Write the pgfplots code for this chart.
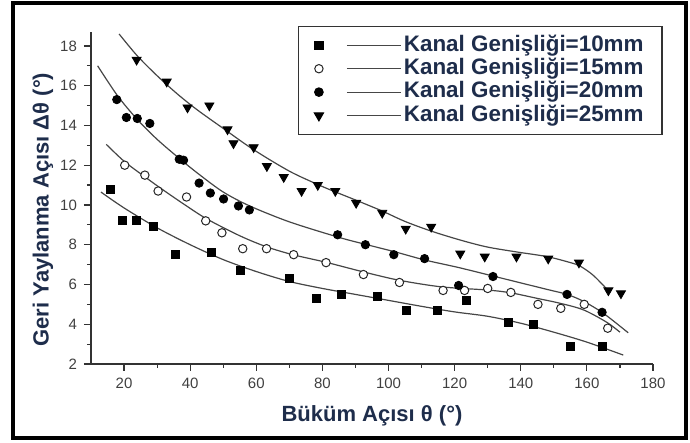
\documentclass[border=0pt]{standalone}
\usepackage{fontspec}
\setmainfont{Liberation Sans}
\usepackage{pgfplots}
\pgfplotsset{compat=1.18}

\definecolor{labelink}{RGB}{30,45,75}
\definecolor{fitline}{RGB}{70,70,70}

\begin{document}
\begin{tikzpicture}
\begin{axis}[
  scale only axis,
  width=281pt, height=166pt,
  xmin=10, xmax=180, ymin=2, ymax=18.7,
  axis lines=left,
  axis line style={-, black!80, line width=0.7pt},
  xtick={20,40,...,180}, ytick={2,4,...,18},
  minor x tick num=1, minor y tick num=1,
  tick align=outside,
  major tick length=3.5pt, minor tick length=2pt,
  every tick/.style={black!80, line width=0.6pt},
  /pgf/number format/assume math mode=true,
  tick label style={font=\fontsize{7.5}{9}\selectfont, text=black!75},
  xlabel={Büküm Açısı θ (°)},
  ylabel={Geri Yaylanma Açısı Δθ (°)},
  label style={font=\bfseries\fontsize{11}{13}\selectfont, text=labelink},
  xlabel style={at={(axis description cs:0.5,-0.157)}, anchor=center},
  ylabel style={at={(axis description cs:-0.0854,0.465)}, anchor=center},
  legend cell align=left,
  legend style={
    at={(axis description cs:0.368,1.018)}, anchor=north west,
    draw=black!80, line width=0.6pt, fill=white,
    inner xsep=8pt, inner ysep=3.5pt,
    row sep=0pt,
    font=\bfseries\fontsize{11.2}{13}\selectfont, text=labelink,
    nodes={inner ysep=0.8pt, inner xsep=1.2pt, text height=7.9pt, text depth=2.2pt},
  },
  legend image code/.code={
    \draw[#1] plot coordinates {(0pt,0pt)};
    \draw[fitline, line width=0.6pt] (14pt,0pt) -- (41pt,0pt);
  },
]

% measured points
\addplot[only marks, mark=square*, mark size=2pt, black] coordinates {
  (15.8,10.8) (19.5,9.2) (23.8,9.2) (28.9,8.9) (35.5,7.5) (46.3,7.6)
  (55.1,6.7) (70.0,6.3) (78.1,5.3) (85.7,5.5) (96.5,5.4) (105.4,4.7)
  (114.8,4.7) (123.5,5.2) (136.4,4.1) (143.7,4.0) (155.1,2.9) (164.6,2.9)
};
\addlegendentry{Kanal Genişliği=10mm}

\addplot[only marks, mark=*, mark size=2.1pt, black!85, mark options={fill=white, line width=0.5pt}] coordinates {
  (20.2,12.0) (26.3,11.5) (30.3,10.7) (38.9,10.4) (44.7,9.2) (49.6,8.6)
  (55.9,7.8) (63.1,7.8) (71.3,7.5) (81.1,7.1) (92.4,6.5) (103.3,6.1)
  (116.5,5.7) (123.0,5.7) (130.0,5.8) (137.0,5.6) (145.2,5.0) (152.1,4.8)
  (159.2,5.0) (166.3,3.8)
};
\addlegendentry{Kanal Genişliği=15mm}

\addplot[only marks, mark=*, mark size=2.1pt, black] coordinates {
  (17.8,15.3) (20.7,14.4) (24.0,14.35) (27.8,14.1) (36.7,12.3) (38.0,12.25)
  (42.7,11.1) (46.1,10.6) (50.1,10.3) (54.6,9.95) (57.9,9.75) (84.6,8.5)
  (93.0,8.0) (101.6,7.5) (110.9,7.3) (121.2,5.95) (131.6,6.4) (154.0,5.5)
  (164.6,4.6)
};
\addlegendentry{Kanal Genişliği=20mm}

\addplot[only marks, mark=triangle*, mark size=2.6pt, black, mark options={rotate=180}] coordinates {
  (23.8,17.3) (32.9,16.2) (39.2,14.9) (45.8,15.0) (51.3,13.8) (53.1,13.1)
  (59.2,12.9) (63.2,11.95) (68.3,11.4) (73.7,10.7) (78.6,11.0) (83.9,10.7)
  (90.2,10.1) (98.1,9.6) (105.2,8.8) (112.9,8.9) (121.7,7.55) (129.1,7.4)
  (138.7,7.4) (148.3,7.3) (157.6,7.1) (166.5,5.7) (170.3,5.55)
};
\addlegendentry{Kanal Genişliği=25mm}

% fitted curves
\pgfplotsset{every axis plot post/.append style={forget plot}}
\addplot[fitline, line width=0.6pt, smooth, mark=none] coordinates {
  (13,10.65) (20,9.85) (30,8.85) (40,8.0) (50,7.25) (60,6.65) (70,6.15)
  (80,5.8) (90,5.5) (100,5.2) (110,4.9) (120,4.62) (130,4.4) (140,4.05)
  (150,3.6) (160,3.1) (171,2.45)
};
\addplot[fitline, line width=0.6pt, smooth, mark=none] coordinates {
  (14.6,13.05) (20,12.2) (26,11.45) (31,10.85) (38,10.05) (45,9.3) (55,8.45)
  (63,7.9) (71,7.5) (81,7.12) (92,6.65) (103,6.22) (116,5.88) (130,5.72)
  (137,5.58) (145,5.3) (152,5.05) (159,4.72) (166,4.1) (170,3.6)
};
\addplot[fitline, line width=0.6pt, smooth, mark=none] coordinates {
  (12,17.0) (18,15.5) (24,14.3) (30,13.3) (37,12.3) (43,11.5) (50,10.65)
  (58,9.95) (70,9.15) (85,8.37) (93,8.02) (102,7.64) (111,7.23) (121,6.86)
  (131,6.45) (139,6.12) (148,5.75) (154,5.5) (159,5.15) (165,4.55) (172.5,3.57)
};
\addplot[fitline, line width=0.6pt, smooth, mark=none] coordinates {
  (18.5,18.6) (24,17.5) (30,16.5) (36,15.6) (42,14.8) (50,13.85) (59,12.8)
  (70,11.7) (79,11.0) (84,10.65) (90,10.25) (98,9.7) (105,9.17) (113,8.68)
  (122,8.22) (130,7.88) (139,7.63) (148,7.4) (155,7.1) (158,6.92) (162,6.45)
  (167,5.6)
};
\end{axis}
% outer frame and page extent
\draw[black, line width=1.6pt] (-39pt,-37pt) rectangle (297.5pt,180.5pt);
\path[use as bounding box] (-45.5pt,-39.5pt) rectangle (299.5pt,182pt);
\end{tikzpicture}
\end{document}
